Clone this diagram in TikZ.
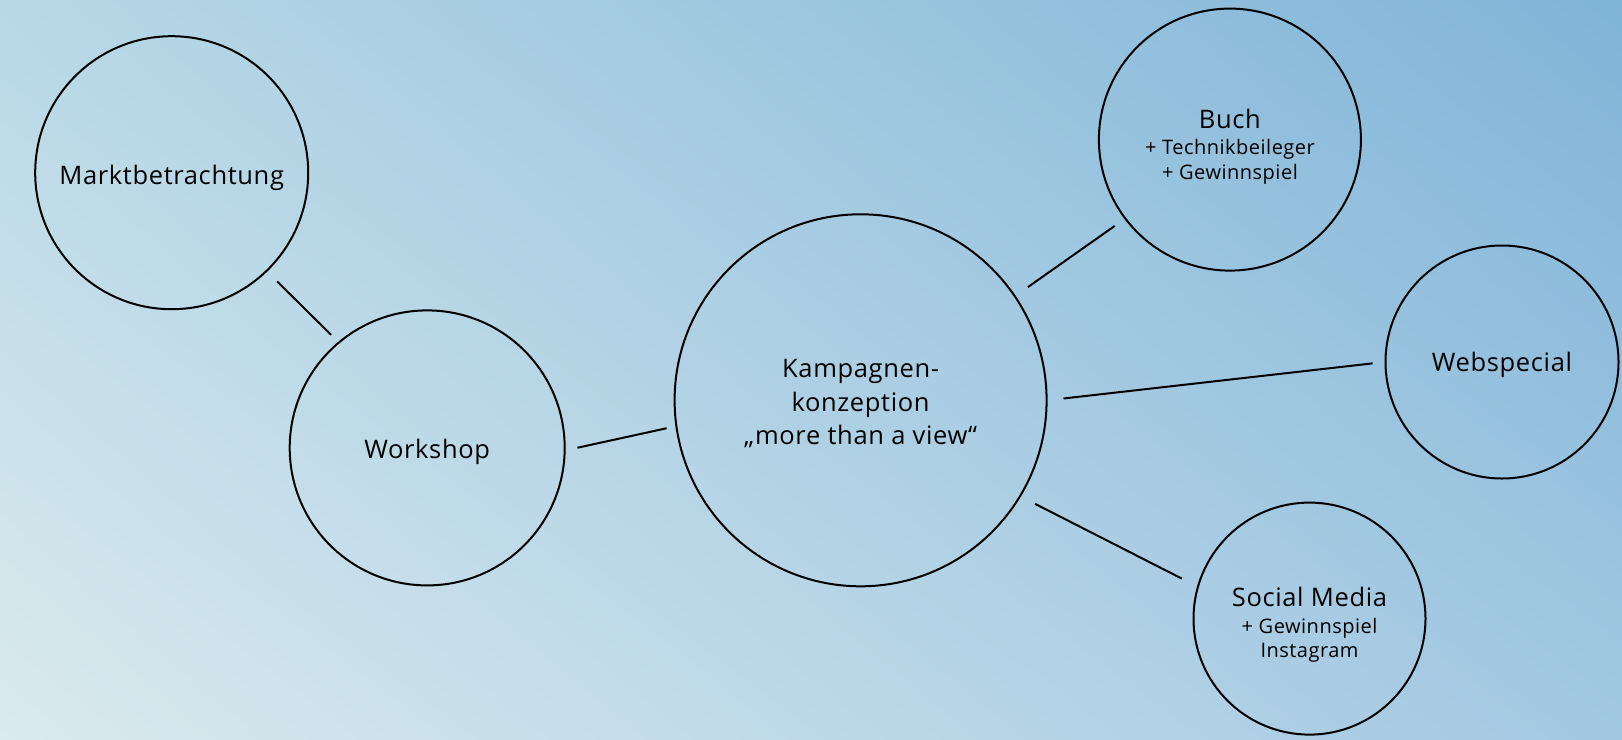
\documentclass[tikz,border=0pt]{standalone}
\usepackage{fontspec}
\setmainfont{Open Sans}[LetterSpace=2.5]
\usetikzlibrary{shapes.geometric,shadings}
\definecolor{bgUL}{HTML}{B8D8E6}
\definecolor{bgUR}{HTML}{80B4D8}
\definecolor{bgLL}{HTML}{DAEAEE}
\definecolor{bgLR}{HTML}{A2C8E2}
\tikzset{
  bubble/.style={circle, draw=black, line width=2pt, inner sep=0pt},
  lbl/.style={align=center, inner sep=0pt, font=\fontsize{25.5}{34}\selectfont},
  link/.style={draw=black, line width=2pt}
}
\newcommand{\subline}[1]{{\fontsize{20}{25}\selectfont #1}}
\begin{document}
\begin{tikzpicture}[x=1pt,y=-1pt]
\shade[upper left=bgUL, upper right=bgUR, lower left=bgLL, lower right=bgLR]
  (0,739) rectangle (1622,0);
\useasboundingbox (0,0) rectangle (1622,739);
\node[bubble, minimum size=273pt] (m) at (171.7,172.7) {};
\node[bubble, minimum size=275pt] (w) at (427.2,447.9) {};
\node[bubble, minimum size=372pt] (k) at (860.6,400.3) {};
\node[bubble, minimum size=262pt] (b) at (1229.9,139.6) {};
\node[bubble, minimum size=233pt] (ws) at (1502,362) {};
\node[bubble, minimum size=232pt] (s) at (1309.5,618.6) {};
\node[lbl, yshift=-5pt] (mt) at (m) {Marktbetrachtung};
\node[lbl, yshift=-4pt] (wt) at (w) {Workshop};
\node[lbl, yshift=-3pt] (kt) at (k) {Kampagnen-\\[0.5pt]konzeption\\[-1pt]„more than a view“};
\node[lbl, yshift=-7pt] (bt) at (b) {Buch\\[-8pt]\subline{+ Technikbeileger}\\[-9.5pt]\subline{+ Gewinnspiel}};
\node[lbl, yshift=-3pt] (wst) at (ws) {Webspecial};
\node[lbl, yshift=-6pt] (st) at (s) {Social Media\\[-7pt]\subline{+ Gewinnspiel}\\[-10pt]\subline{Instagram}};
\draw[link, shorten <=14pt, shorten >=10pt] (m.-46) -- (w.130.5);
\draw[link, shorten <=12pt, shorten >=9pt] (w.-1) -- (k.188.8);
\draw[link, shorten <=15pt, shorten >=12pt] (k.34.3) -- (b.217.7);
\draw[link, shorten <=16pt, shorten >=12pt] (k.0.3) -- (ws.180.5);
\draw[link, shorten <=16pt, shorten >=17pt] (k.-31) -- (s.164.2);
\end{tikzpicture}
\end{document}
